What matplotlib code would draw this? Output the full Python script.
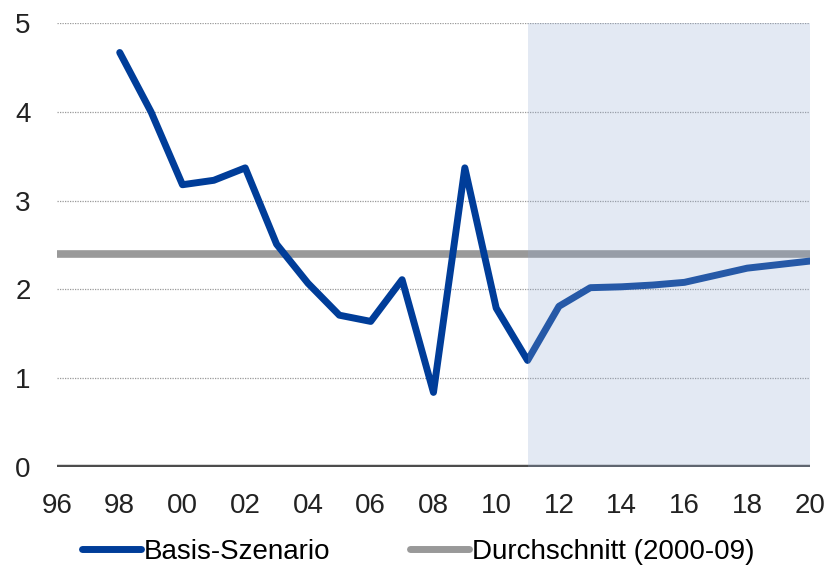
import matplotlib
matplotlib.use('Agg')
import matplotlib.pyplot as plt

# Daten
jahre = list(range(1998, 2021))
basis = [4.67, 4.00, 3.18, 3.23, 3.37, 2.51, 2.07, 1.71, 1.64, 2.11, 0.84, 3.37,
         1.79, 1.20, 1.81, 2.02, 2.03, 2.05, 2.08, 2.16, 2.24, 2.28, 2.32]
durchschnitt = 2.40
prognose_start = 2011
x_ticks = list(range(1996, 2021, 2))
x_labels = [str(j)[2:] for j in x_ticks]
y_ticks = [0, 1, 2, 3, 4, 5]

plt.rcParams['font.family'] = ['Liberation Sans', 'DejaVu Sans']

fig = plt.figure(figsize=(8.28, 5.66), dpi=100)
ax = fig.add_axes([0.0688, 0.175, 0.9094, 0.784])

blau = '#003D99'
grau = '#999999'

# Gitterlinien
for y in y_ticks[1:]:
    ax.axhline(y, color='#999999', linestyle=(0, (1, 1)), linewidth=0.9, zorder=1)

ax.axhline(durchschnitt, color=grau, linewidth=5.5, zorder=2,
           label='Durchschnitt (2000-09)')
ax.plot(jahre, basis, color=blau, linewidth=5, solid_joinstyle='round',
        solid_capstyle='round', zorder=3, label='Basis-Szenario')

# Nulllinie
ax.axhline(0, color='#4d4d4d', linewidth=3.2, zorder=4)

# Prognosezeitraum
ax.axvspan(prognose_start, 2020, color='#94ABD1', alpha=0.26, linewidth=0, zorder=5)

ax.set_xlim(1996, 2020)
ax.set_ylim(0, 5)
ax.set_xticks(x_ticks)
ax.set_xticklabels(x_labels)
ax.set_yticks(y_ticks)
ax.tick_params(axis='both', length=0, labelsize=20, colors='#222222')
ax.tick_params(axis='x', pad=19)
ax.tick_params(axis='y', pad=19)
for s in ax.spines.values():
    s.set_visible(False)

h, l = ax.get_legend_handles_labels()
leg = fig.legend(h[::-1], l[::-1], loc='center', bbox_to_anchor=(0.505, 0.025),
                 ncol=2, frameon=False, fontsize=20, handlelength=2.1,
                 handletextpad=0.1, columnspacing=2.9)
for line in leg.get_lines():
    line.set_linewidth(5)
    line.set_solid_capstyle('round')

fig.savefig('out.png', dpi=100)
